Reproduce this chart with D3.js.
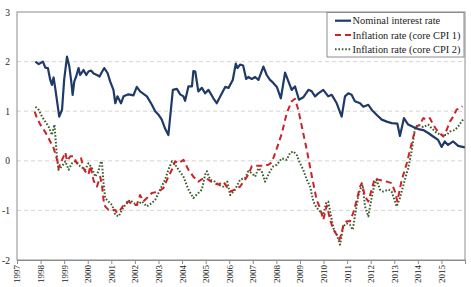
<!DOCTYPE html>
<html>
<head>
<meta charset="utf-8">
<title></title>
<style>
  body { margin: 0; background: #fff; }
  svg text { font-family: "Liberation Serif", "Times New Roman", serif; fill: #222; }
</style>
</head>
<body>
<script src="https://cdnjs.cloudflare.com/ajax/libs/d3/7.8.5/d3.min.js"></script>
<script>

var w = 471;
var h = 287;

// [year, value]
var nominalRate = [
  [1997.78, 2.0], [1997.92, 1.95], [1998.10, 2.0], [1998.20, 1.88], [1998.31, 1.87], [1998.41, 1.63],
  [1998.48, 1.53], [1998.55, 1.68], [1998.62, 1.47], [1998.79, 0.89], [1998.91, 1.03], [1999.00, 1.63],
  [1999.12, 2.1], [1999.22, 1.9], [1999.30, 1.6], [1999.36, 1.33], [1999.43, 1.6], [1999.51, 1.7],
  [1999.61, 1.87], [1999.68, 1.73], [1999.82, 1.83], [1999.94, 1.73], [2000.03, 1.8], [2000.14, 1.82],
  [2000.25, 1.76], [2000.39, 1.73], [2000.50, 1.7], [2000.59, 1.78], [2000.70, 1.87], [2000.84, 1.77],
  [2000.95, 1.6], [2001.09, 1.43], [2001.17, 1.16], [2001.26, 1.3], [2001.41, 1.16], [2001.52, 1.3],
  [2001.73, 1.34], [2001.94, 1.32], [2002.08, 1.49], [2002.22, 1.4], [2002.51, 1.3], [2002.72, 1.13],
  [2002.86, 1.0], [2003.00, 0.93], [2003.14, 0.83], [2003.28, 0.65], [2003.42, 0.52], [2003.61, 1.43],
  [2003.78, 1.45], [2003.92, 1.34], [2004.06, 1.3], [2004.13, 1.21], [2004.27, 1.5], [2004.42, 1.5],
  [2004.48, 1.81], [2004.56, 1.8], [2004.69, 1.4], [2004.84, 1.47], [2004.98, 1.36], [2005.12, 1.43],
  [2005.33, 1.26], [2005.47, 1.16], [2005.69, 1.36], [2005.83, 1.49], [2005.97, 1.47], [2006.15, 1.63],
  [2006.28, 1.96], [2006.35, 1.87], [2006.46, 1.94], [2006.59, 1.92], [2006.72, 1.65], [2006.81, 1.69],
  [2006.96, 1.65], [2007.10, 1.69], [2007.24, 1.63], [2007.45, 1.9], [2007.59, 1.73], [2007.73, 1.63],
  [2007.85, 1.58], [2008.02, 1.49], [2008.19, 1.26], [2008.37, 1.78], [2008.51, 1.6], [2008.65, 1.43],
  [2008.79, 1.5], [2008.96, 1.23], [2009.14, 1.28], [2009.36, 1.43], [2009.50, 1.40], [2009.64, 1.3],
  [2009.78, 1.36], [2009.99, 1.43], [2010.20, 1.3], [2010.35, 1.33], [2010.56, 1.16], [2010.77, 0.89],
  [2010.91, 1.3], [2011.05, 1.36], [2011.19, 1.33], [2011.33, 1.2], [2011.55, 1.16], [2011.69, 1.09],
  [2011.90, 1.13], [2012.04, 1.03], [2012.25, 0.93], [2012.47, 0.83], [2012.68, 0.79], [2012.89, 0.76],
  [2013.13, 0.75], [2013.24, 0.5], [2013.41, 0.86], [2013.59, 0.73], [2013.81, 0.68], [2014.02, 0.64],
  [2014.23, 0.62], [2014.44, 0.56], [2014.65, 0.49], [2014.86, 0.42], [2015.01, 0.28], [2015.14, 0.39],
  [2015.28, 0.32], [2015.50, 0.39], [2015.71, 0.3], [2015.99, 0.27]
];

var coreCpi1 = [
  [1997.75, 0.99], [1997.85, 0.86], [1997.99, 0.73], [1998.13, 0.63], [1998.27, 0.52], [1998.41, 0.39],
  [1998.55, 0.26], [1998.65, 0.1], [1998.74, -0.05], [1998.76, -0.15], [1998.91, 0.02], [1999.05, 0.17],
  [1999.12, 0.0], [1999.26, 0.09], [1999.40, 0.09], [1999.54, -0.05], [1999.72, 0.05], [1999.82, -0.15],
  [1999.89, -0.21], [2000.03, -0.28], [2000.11, -0.1], [2000.25, -0.4], [2000.39, -0.52], [2000.53, -0.32],
  [2000.60, -0.48], [2000.67, -0.79], [2000.74, -0.92], [2000.88, -0.99], [2001.17, -0.99], [2001.24, -1.05],
  [2001.38, -0.99], [2001.59, -0.85], [2001.73, -0.82], [2001.94, -0.89], [2002.08, -0.89], [2002.22, -0.69],
  [2002.36, -0.82], [2002.51, -0.75], [2002.72, -0.65], [2003.00, -0.62], [2003.21, -0.55], [2003.42, -0.32],
  [2003.57, -0.18], [2003.71, -0.01], [2003.85, -0.05], [2004.06, 0.02], [2004.27, -0.18], [2004.48, -0.32],
  [2004.69, -0.42], [2004.91, -0.35], [2005.12, -0.38], [2005.33, -0.45], [2005.54, -0.48], [2005.75, -0.42],
  [2006.04, -0.62], [2006.25, -0.58], [2006.46, -0.52], [2006.67, -0.38], [2006.81, -0.28], [2006.96, -0.11],
  [2007.17, -0.1], [2007.45, -0.1], [2007.66, -0.08], [2007.81, -0.03], [2008.02, 0.25], [2008.23, 0.55],
  [2008.44, 0.96], [2008.65, 1.2], [2008.79, 1.25], [2008.93, 1.03], [2009.08, 0.69], [2009.29, 0.22],
  [2009.50, -0.3], [2009.71, -0.79], [2009.85, -0.95], [2009.99, -1.19], [2010.14, -0.9], [2010.28, -1.19],
  [2010.42, -1.39], [2010.56, -1.49], [2010.67, -1.59], [2010.77, -1.46], [2010.84, -1.29], [2010.98, -1.22],
  [2011.12, -1.22], [2011.26, -1.05], [2011.41, -0.79], [2011.55, -0.52], [2011.62, -0.45], [2011.76, -0.72],
  [2011.90, -0.82], [2012.04, -0.58], [2012.18, -0.35], [2012.32, -0.38], [2012.68, -0.42], [2012.89, -0.45],
  [2013.03, -0.62], [2013.13, -0.82], [2013.31, -0.4], [2013.53, -0.05], [2013.67, 0.22], [2013.81, 0.49],
  [2013.95, 0.69], [2014.09, 0.73], [2014.23, 0.86], [2014.37, 0.83], [2014.51, 0.86], [2014.65, 0.73],
  [2014.80, 0.62], [2015.08, 0.49], [2015.22, 0.62], [2015.36, 0.79], [2015.50, 0.89], [2015.64, 1.03],
  [2015.78, 1.06], [2015.89, 1.1]
];

var coreCpi2 = [
  [1997.78, 1.09], [1997.92, 1.03], [1998.06, 0.89], [1998.20, 0.79], [1998.34, 0.69], [1998.48, 0.52],
  [1998.59, 0.73], [1998.65, 0.35], [1998.69, 0.1], [1998.76, -0.18], [1998.91, -0.11], [1999.05, -0.01],
  [1999.19, -0.18], [1999.33, -0.05], [1999.47, -0.01], [1999.68, -0.11], [1999.89, -0.18], [2000.03, -0.05],
  [2000.18, -0.15], [2000.32, -0.32], [2000.46, -0.21], [2000.53, -0.05], [2000.60, -0.01], [2000.67, -0.45],
  [2000.74, -0.75], [2000.88, -0.82], [2001.03, -0.89], [2001.17, -1.09], [2001.31, -1.12], [2001.45, -0.99],
  [2001.59, -0.89], [2001.80, -0.79], [2001.94, -0.85], [2002.08, -0.89], [2002.30, -0.82], [2002.51, -0.92],
  [2002.72, -0.85], [2002.86, -0.79], [2003.07, -0.58], [2003.28, -0.38], [2003.42, -0.18], [2003.57, -0.01],
  [2003.71, -0.08], [2003.85, -0.18], [2004.06, -0.32], [2004.27, -0.58], [2004.48, -0.75], [2004.69, -0.65],
  [2004.84, -0.58], [2004.98, -0.28], [2005.05, -0.21], [2005.19, -0.38], [2005.40, -0.42], [2005.54, -0.48],
  [2005.75, -0.52], [2005.92, -0.42], [2006.04, -0.69], [2006.25, -0.58], [2006.46, -0.38], [2006.67, -0.35],
  [2006.81, -0.21], [2006.96, -0.25], [2007.10, -0.32], [2007.24, -0.15], [2007.38, -0.21], [2007.52, -0.42],
  [2007.73, -0.21], [2007.87, -0.11], [2008.02, -0.08], [2008.23, 0.05], [2008.44, 0.02], [2008.58, 0.16],
  [2008.72, 0.19], [2008.86, 0.12], [2009.00, -0.05], [2009.14, -0.18], [2009.29, -0.38], [2009.43, -0.52],
  [2009.57, -0.82], [2009.71, -0.95], [2009.85, -1.02], [2009.99, -1.09], [2010.11, -0.85], [2010.20, -0.82],
  [2010.28, -1.02], [2010.42, -1.36], [2010.56, -1.49], [2010.70, -1.69], [2010.84, -1.32], [2010.98, -1.26],
  [2011.12, -1.29], [2011.24, -1.39], [2011.33, -1.12], [2011.47, -0.72], [2011.55, -0.58], [2011.66, -0.48],
  [2011.76, -0.92], [2011.90, -1.12], [2012.00, -0.85], [2012.11, -0.58], [2012.25, -0.38], [2012.39, -0.58],
  [2012.53, -0.62], [2012.75, -0.58], [2012.89, -0.62], [2013.10, -0.92], [2013.24, -0.75], [2013.45, -0.38],
  [2013.59, -0.15], [2013.74, 0.2], [2013.88, 0.66], [2014.02, 0.73], [2014.23, 0.68], [2014.44, 0.73],
  [2014.58, 0.66], [2014.80, 0.56], [2015.01, 0.52], [2015.22, 0.52], [2015.36, 0.59], [2015.57, 0.62],
  [2015.71, 0.69], [2015.85, 0.79], [2015.92, 0.83]
];

var seriesNames = ["Nominal interest rate", "Inflation rate (core CPI 1)", "Inflation rate (core CPI 2)"];
var years = d3.range(1997, 2017);
var yTicks = [-2, -1, 0, 1, 2, 3];

var margin = { top: 12, right: 6, bottom: 27, left: 17 };

var xScale = d3.scaleLinear()
               .domain([1997, 2016])
               .range([margin.left, w - margin.right]);

var yScale = d3.scaleLinear()
               .domain([-2, 3])
               .range([h - margin.bottom, margin.top]);

var svg = d3.select("body")
            .append("svg")
            .attr("width", w)
            .attr("height", h);

// gridlines
svg.selectAll("line.grid")
   .data(yTicks.filter(function(d) { return d > -2 && d < 3; }))
   .enter()
   .append("line")
   .attr("class", "grid")
   .attr("x1", margin.left)
   .attr("x2", w - margin.right)
   .attr("y1", function(d) { return yScale(d); })
   .attr("y2", function(d) { return yScale(d); })
   .attr("stroke", "#d4d4d4")
   .attr("stroke-width", 1)
   .attr("stroke-dasharray", "4,3");

// plot frame
svg.append("rect")
   .attr("x", margin.left)
   .attr("y", margin.top)
   .attr("width", w - margin.right - margin.left)
   .attr("height", h - margin.bottom - margin.top)
   .attr("fill", "none")
   .attr("stroke", "#8c8c8c")
   .attr("stroke-width", 1);

// x axis
var xAxis = svg.append("g")
   .attr("transform", "translate(0," + (h - margin.bottom) + ")")
   .call(d3.axisBottom(xScale)
           .tickValues(years)
           .tickFormat(d3.format("d"))
           .tickSize(4)
           .tickSizeOuter(0));
xAxis.select(".domain").attr("stroke", "#8c8c8c");
xAxis.selectAll(".tick line").attr("stroke", "#8c8c8c");
xAxis.selectAll(".tick text")
   .filter(function(d) { return d === 2016; })
   .remove();
xAxis.selectAll(".tick text")
   .attr("font-family", null)
   .attr("font-size", "9px")
   .attr("text-anchor", "end")
   .attr("dy", "0.33em")
   .attr("y", 0)
   .attr("x", -5)
   .attr("transform", "rotate(-90)");

// y axis
var yAxis = svg.append("g")
   .attr("transform", "translate(" + margin.left + ",0)")
   .call(d3.axisLeft(yScale)
           .tickValues(yTicks)
           .tickFormat(d3.format("d"))
           .tickSize(0)
           .tickPadding(7));
yAxis.select(".domain").remove();
yAxis.selectAll(".tick text")
   .attr("font-family", null)
   .attr("font-size", "9.5px")
   .text(function(d) { return d < 0 ? "-" + Math.abs(d) : d; });

var line = d3.line()
   .x(function(d) { return xScale(d[0]); })
   .y(function(d) { return yScale(d[1]); });

var styles = [
  { color: "#1f3a68", width: 2.2, dash: null },
  { color: "#cc2229", width: 2, dash: "6,4" },
  { color: "#3b5e2b", width: 2, dash: "1.6,1.8" }
];
var seriesData = [nominalRate, coreCpi1, coreCpi2];

// draw green first, then red, then nominal on top
[2, 1, 0].forEach(function(i) {
  svg.append("path")
     .datum(seriesData[i])
     .attr("d", line)
     .attr("fill", "none")
     .attr("stroke", styles[i].color)
     .attr("stroke-width", styles[i].width)
     .attr("stroke-dasharray", styles[i].dash)
     .attr("stroke-linejoin", "round");
});

// legend
var legend = svg.append("g").attr("transform", "translate(327,12.5)");
legend.append("rect")
   .attr("width", 137)
   .attr("height", 44.5)
   .attr("fill", "#fff")
   .attr("stroke", "#8c8c8c")
   .attr("stroke-width", 1);

var items = legend.selectAll("g.item")
   .data(seriesNames)
   .enter()
   .append("g")
   .attr("class", "item")
   .attr("transform", function(d, i) { return "translate(0," + (8.2 + i * 14.3) + ")"; });

items.append("line")
   .attr("x1", 8)
   .attr("x2", 24)
   .attr("stroke", function(d, i) { return styles[i].color; })
   .attr("stroke-width", function(d, i) { return styles[i].width; })
   .attr("stroke-dasharray", function(d, i) { return styles[i].dash; });

items.append("text")
   .attr("x", 25.5)
   .attr("dy", "0.35em")
   .attr("font-size", "10.4px")
   .text(function(d) { return d; });

</script>
</body>
</html>
